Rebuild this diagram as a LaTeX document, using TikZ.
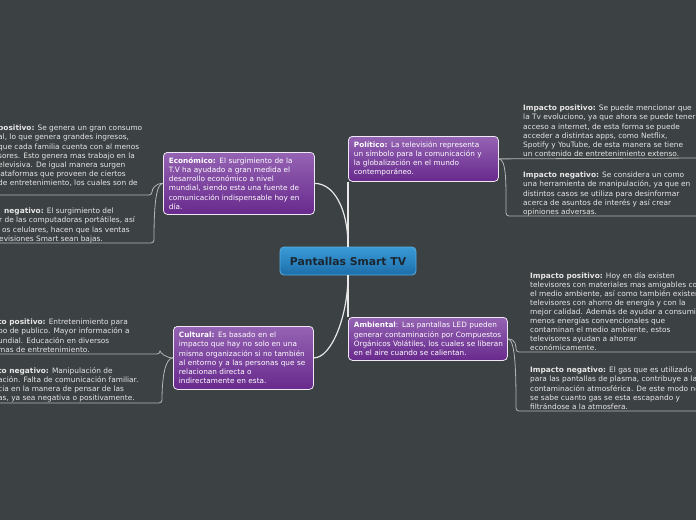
\documentclass[tikz,border=0pt]{standalone}
\usepackage{fontspec}
\setmainfont{DejaVu Sans}
\definecolor{bgcol}{HTML}{3C4143}
\definecolor{purptop}{HTML}{9563B3}
\definecolor{purpbot}{HTML}{682A8D}
\definecolor{bluetop}{HTML}{3A9BD7}
\definecolor{bluebot}{HTML}{1C6EAA}
\definecolor{blueedge}{HTML}{58ADE0}
\definecolor{hubtext}{HTML}{1B2630}
\definecolor{leafcol}{HTML}{E6E6E6}
\definecolor{linecol}{HTML}{E8E8E8}
\definecolor{sublinecol}{HTML}{B4B6B6}
\begin{document}
\begin{tikzpicture}[x=1pt,y=-1pt,
  hubbox/.style={draw=blueedge, line width=0.8pt, rounded corners=4pt,
    top color=bluetop, bottom color=bluebot, text=hubtext,
    font=\fontsize{10.8}{12}\selectfont\bfseries,
    minimum width=136pt, minimum height=28pt, inner sep=0pt},
  topicbox/.style={draw=white!85!purptop, line width=0.8pt, rounded corners=4pt,
    top color=purptop, bottom color=purpbot, text=white,
    font=\fontsize{7.3}{9.2}\selectfont, align=left,
    inner xsep=5.5pt, inner ysep=0pt, anchor=north west},
  leaftext/.style={text=leafcol, font=\fontsize{7.4}{9.1}\selectfont,
    align=left, inner sep=0pt, anchor=north west},
  mainlink/.style={draw=linecol, line width=1.2pt},
  sublink/.style={draw=sublinecol, line width=0.8pt, rounded corners=3pt}
]
\useasboundingbox (0,0) rectangle (696,520);
\fill[bgcol] (0,0) rectangle (696,520);
\clip (0,0) rectangle (696,520);

% central node
\node[hubbox] (hub) at (348,261) {Pantallas Smart TV};

% main topics
\node[topicbox, text width=140pt, minimum height=62pt] (eco) at (163,152)
 {\mbox{\textbf{Económico:} El surgimiento de la}\\\mbox{T.V ha ayudado a gran medida el}\\\mbox{desarrollo económico a nivel}\\\mbox{mundial, siendo esta una fuente de}\\\mbox{comunicación indispensable hoy en}\\día.};
\node[topicbox, text width=139pt, minimum height=45pt] (pol) at (348,136)
 {\mbox{\textbf{Político:} La televisión representa}\\\mbox{un símbolo para la comunicación y}\\\mbox{la globalización en el mundo}\\contemporáneo.};
\node[topicbox, text width=129pt, minimum height=63pt] (cul) at (173,326)
 {\mbox{\textbf{Cultural:} Es basado en el}\\\mbox{impacto que hay no solo en una}\\\mbox{misma organización si no también}\\\mbox{al entorno y a las personas que se}\\\mbox{relacionan directa o}\\\mbox{indirectamente en esta.}};
\node[topicbox, text width=148pt, minimum height=43pt] (amb) at (348,317)
 {\mbox{\textbf{Ambiental}: Las pantallas LED pueden}\\\mbox{generar contaminación por Compuestos}\\\mbox{Orgánicos Volátiles, los cuales se liberan}\\\mbox{en el aire cuando se calientan.}};

% leaf texts
\node[leaftext] (ecopos) at (-2,125)
 {\textbf{positivo:} Se genera un gran consumo\\al, lo que genera grandes ingresos,\\que cada familia cuenta con al menos\\sores. Esto genera mas trabajo en la\\elevisiva. De igual manera surgen\\lataformas que proveen de ciertos\\de entretenimiento, los cuales son de};
\node[leaftext] (econeg) at (-1,208)
 {\hspace*{5pt}\textbf{negativo:} El surgimiento del\\r de las computadoras portátiles, así\\\hspace*{3pt}os celulares, hacen que las ventas\\evisiones Smart sean bajas.};
\node[leaftext] (polpos) at (523,105)
 {\textbf{Impacto positivo:} Se puede mencionar que\\la Tv evoluciono, ya que ahora se puede tener\\acceso a internet, de esta forma se puede\\acceder a distintas apps, como Netflix,\\Spotify y YouTube, de esta manera se tiene\\un contenido de entretenimiento extenso.};
\node[leaftext] (polneg) at (523,172)
 {\textbf{Impacto negativo:} Se considera un como\\una herramienta de manipulación, ya que en\\distintos casos se utiliza para desinformar\\acerca de asuntos de interés y así crear\\opiniones adversas.};
\node[leaftext] (culpos) at (-2,319)
 {\textbf{to positivo:} Entretenimiento para\\po de publico. Mayor información a\\undial. Educación en diversos\\mas de entretenimiento.};
\node[leaftext] (culneg) at (-2,367)
 {\textbf{to negativo:} Manipulación de\\ación. Falta de comunicación familiar.\\cia en la manera de pensar de las\\as, ya sea negativa o positivamente.};
\node[leaftext] (ambpos) at (530,272)
 {\textbf{Impacto positivo:} Hoy en día existen\\televisores con materiales mas amigables con\\el medio ambiente, así como también existen\\televisores con ahorro de energía y con la\\mejor calidad. Además de ayudar a consumir\\menos energías convencionales que\\contaminan el medio ambiente, estos\\televisores ayudan a ahorrar\\económicamente.};
\node[leaftext] (ambneg) at (530,367)
 {\textbf{Impacto negativo:} El gas que es utilizado\\para las pantallas de plasma, contribuye a la\\contaminación atmosférica. De este modo no\\se sabe cuanto gas se esta escapando y\\filtrándose a la atmosfera.};

% underline ends
\coordinate (ecopos-u) at (152,195);
\coordinate (ecopos-e) at (-5,195);
\coordinate (econeg-u) at (154,243);
\coordinate (econeg-e) at (-5,243);
\coordinate (culpos-u) at (160,354);
\coordinate (culpos-e) at (-5,354);
\coordinate (culneg-u) at (162,403);
\coordinate (culneg-e) at (-5,403);
\coordinate (polneg-u) at (506,216);
\coordinate (polpos-e) at (700,158);
\coordinate (polneg-e) at (700,216);
\coordinate (ambpos-u) at (516,352);
\coordinate (ambneg-u) at (516,411);
\coordinate (ambpos-e) at (700,352);
\coordinate (ambneg-e) at (700,411);

% main links
\draw[mainlink] (hub.north) .. controls +(0,-40) and +(18,0) .. (eco.east);
\draw[mainlink] (hub.north) -- (hub.north |- pol.south);
\draw[mainlink] (hub.south) .. controls +(0,40) and +(18,0) .. (cul.east);
\draw[mainlink] (hub.south) -- (hub.south |- amb.north);

% sub links
\draw[sublink] (eco.west) .. controls +(-8,0) and +(0,-6) .. (ecopos-u) -- (ecopos-e);
\draw[sublink] (eco.west) .. controls +(-8,0) and +(0,-30) .. (econeg-u) -- (econeg-e);
\draw[sublink] (cul.west) .. controls +(-8,0) and +(0,-2) .. (culpos-u) -- (culpos-e);
\draw[sublink] (cul.west) .. controls +(-8,0) and +(0,-25) .. (culneg-u) -- (culneg-e);
\draw[sublink] (pol.east) -- (polpos-e);
\draw[sublink] (pol.east) .. controls +(8,0) and +(0,-30) .. (polneg-u) -- (polneg-e);
\draw[sublink] (amb.east) .. controls +(8,0) and +(0,-6) .. (ambpos-u) -- (ambpos-e);
\draw[sublink] (amb.east) .. controls +(8,0) and +(0,-35) .. (ambneg-u) -- (ambneg-e);
\end{tikzpicture}
\end{document}
